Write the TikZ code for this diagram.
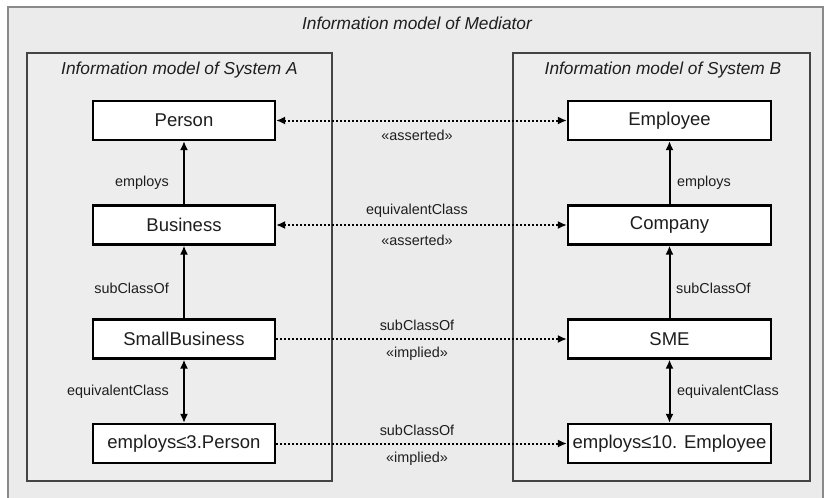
\documentclass[tikz,border=0pt]{standalone}
\usepackage{fontspec}
\setmainfont{Liberation Sans}
\usetikzlibrary{arrows.meta}
\definecolor{bgouter}{HTML}{EBEBEB}
\definecolor{bginner}{HTML}{EDEDED}
\definecolor{outerline}{HTML}{8A8A8A}
\definecolor{innerline}{HTML}{444444}
\definecolor{txt}{HTML}{1E1E1E}
\begin{document}
\begin{tikzpicture}[x=1pt,y=-1pt,
  cls/.style={draw=black, fill=white, line width=2.2pt, inner sep=0pt, minimum height=39pt, font=\fontsize{18.5}{20}\selectfont, text=txt},
  clsA/.style={cls, minimum width=182pt},
  clsB/.style={cls, minimum width=203pt},
  lbl/.style={inner sep=0pt, font=\fontsize{14.4}{16}\selectfont, text=txt},
  ttl/.style={inner sep=0pt, font=\fontsize{17.3}{19}\selectfont\itshape, text=txt},
  solidarr/.style={line width=2pt, -{Latex[length=9pt,width=8pt]}},
  bothsolid/.style={line width=2pt, {Latex[length=9pt,width=8pt]}-{Latex[length=9pt,width=8pt]}},
  dotarr/.style={line width=2pt, dash pattern=on 2pt off 2pt, -{Latex[length=9pt,width=8pt]}},
  bothdot/.style={line width=2pt, dash pattern=on 2pt off 2pt, {Latex[length=9pt,width=8pt]}-{Latex[length=9pt,width=8pt]}}
]
\useasboundingbox (0,0) rectangle (828,498);
% outer container
\path[fill=bgouter, draw=outerline, line width=1.2pt] (8,7) rectangle (823,510);
\node[ttl] (tmed) at (417,23) {Information model of Mediator};
% inner containers
\path[fill=bginner, draw=innerline, line width=1.2pt] (27,53) rectangle (332,481);
\path[fill=bginner, draw=innerline, line width=1.2pt] (513,53) rectangle (810,481);
\node[ttl] (ta) at (179.5,70) {Information model of System A};
\node[ttl] (tb) at (663,70) {Information model of System B};
% classes A
\node[clsA] (person) at (184,120.5) {Person};
\node[clsA] (business) at (184,225) {Business};
\node[clsA] (small) at (184,339) {SmallBusiness};
\node[clsA] (emp3) at (184,443.5) {employs≤3.Person};
% classes B
\node[clsB] (employee) at (669.5,120.5) {Employee};
\node[clsB] (company) at (669.5,225) {Company};
\node[clsB] (sme) at (669.5,339) {SME};
\node[clsB] (emp10) at (669.5,443.5) {employs≤10. Employee};
% vertical connectors
\draw[solidarr] (business) -- (person);
\draw[solidarr] (small) -- (business);
\draw[bothsolid] (small) -- (emp3);
\draw[solidarr] (company) -- (employee);
\draw[solidarr] (sme) -- (company);
\draw[bothsolid] (sme) -- (emp10);
% vertical labels
\node[lbl, anchor=east] (l1) at (169,183) {employs};
\node[lbl, anchor=east] (l2) at (169,288) {subClassOf};
\node[lbl, anchor=east] (l3) at (169,392) {equivalentClass};
\node[lbl, anchor=west] (l4) at (677,183) {employs};
\node[lbl, anchor=west] (l5) at (676,288) {subClassOf};
\node[lbl, anchor=west] (l6) at (677,392) {equivalentClass};
% horizontal connectors
\draw[bothdot] (person) -- (employee);
\draw[bothdot] (business) -- (company);
\draw[dotarr] (small) -- (sme);
\draw[dotarr] (emp3) -- (emp10);
% horizontal labels
\node[lbl] (h1) at (417,135.5) {«asserted»};
\node[lbl] (h2) at (417,211) {equivalentClass};
\node[lbl] (h3) at (417,240) {«asserted»};
\node[lbl] (h4) at (417,325) {subClassOf};
\node[lbl] (h5) at (417,354) {«implied»};
\node[lbl] (h6) at (417,430) {subClassOf};
\node[lbl] (h7) at (417,459) {«implied»};
\end{tikzpicture}
\end{document}
